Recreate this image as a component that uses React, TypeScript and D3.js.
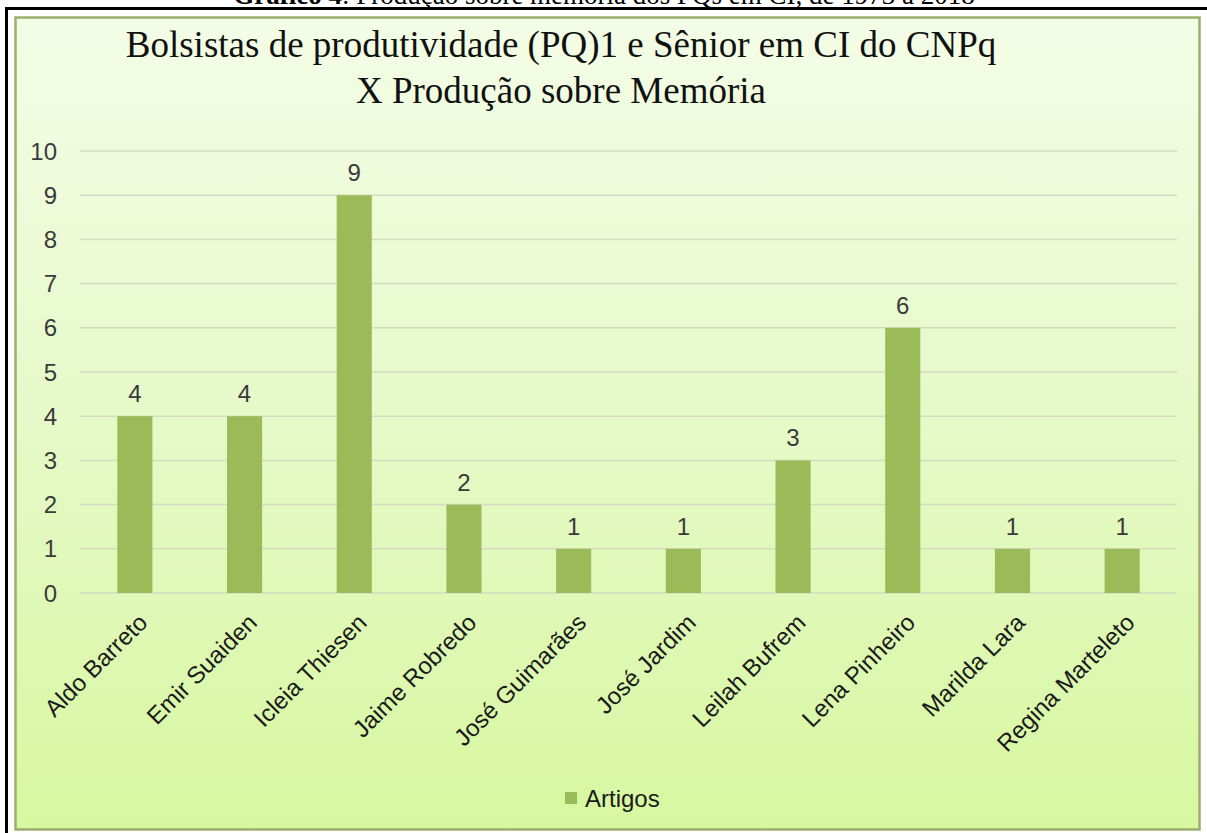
import React, { useEffect, useRef } from "react";
import * as d3 from "d3";

const authors = [
  "Aldo Barreto",
  "Emir Suaiden",
  "Icleia Thiesen",
  "Jaime Robredo",
  "José Guimarães",
  "José Jardim",
  "Leilah Bufrem",
  "Lena Pinheiro",
  "Marilda Lara",
  "Regina Marteleto",
];
const artigos = [4, 4, 9, 2, 1, 1, 3, 6, 1, 1];
const yTicks = [0, 1, 2, 3, 4, 5, 6, 7, 8, 9, 10];
const seriesName = "Artigos";
const titleLines = [
  "Bolsistas de produtividade (PQ)1 e Sênior em CI do CNPq",
  "X Produção sobre Memória",
];

function App() {
  const svgRef = useRef<SVGSVGElement>(null);

  useEffect(() => {
    const width = 1207;
    const height = 833;
    const sans = "'Liberation Sans', Arial, sans-serif";
    const serif = "'Liberation Serif', 'Times New Roman', serif";

    const svg = d3
      .select(svgRef.current)
      .attr("width", width)
      .attr("height", height);

    svg.selectAll("*").remove();

    // background gradient for chart area
    const defs = svg.append("defs");
    const grad = defs
      .append("linearGradient")
      .attr("id", "bg")
      .attr("x1", 0)
      .attr("y1", 0)
      .attr("x2", 0)
      .attr("y2", 1);
    grad.append("stop").attr("offset", "0%").attr("stop-color", "#f3fde6");
    grad.append("stop").attr("offset", "50%").attr("stop-color", "#e6f9c8");
    grad.append("stop").attr("offset", "100%").attr("stop-color", "#d7f7a0");

    svg.append("rect").attr("width", width).attr("height", height).attr("fill", "#ffffff");

    // document caption, cut off by the top edge in the source
    const cap = svg
      .append("text")
      .attr("x", 604)
      .attr("y", 4)
      .attr("text-anchor", "middle")
      .attr("font-family", serif)
      .attr("font-size", 27)
      .attr("fill", "#000");
    cap.append("tspan").attr("font-weight", "bold").text("Gráfico 4");
    cap.append("tspan").text(": Produção sobre memória dos PQs em CI, de 1973 a 2018");

    // black frame lines
    svg.append("rect").attr("x", 5).attr("y", 7).attr("width", width - 5).attr("height", 3).attr("fill", "#000");
    svg.append("rect").attr("x", 5).attr("y", 7).attr("width", 3).attr("height", height - 7).attr("fill", "#000");

    // chart area
    svg
      .append("rect")
      .attr("x", 15.5)
      .attr("y", 17.5)
      .attr("width", 1184)
      .attr("height", 812)
      .attr("fill", "url(#bg)")
      .attr("stroke", "#9cad6c")
      .attr("stroke-width", 2.5);

    // title
    titleLines.forEach((t, i) => {
      svg
        .append("text")
        .attr("x", 561)
        .attr("y", 57 + i * 46)
        .attr("text-anchor", "middle")
        .attr("font-family", serif)
        .attr("font-size", 37)
        .attr("fill", "#111")
        .text(t);
    });

    const x = d3
      .scaleBand()
      .domain(authors)
      .range([80, 1177])
      .paddingInner(0.68)
      .paddingOuter(0.34);

    const y = d3.scaleLinear().domain([0, 10]).range([593, 151]);

    // gridlines
    svg
      .append("g")
      .selectAll("line")
      .data(yTicks)
      .join("line")
      .attr("x1", 80)
      .attr("x2", 1177)
      .attr("y1", (d) => y(d))
      .attr("y2", (d) => y(d))
      .attr("stroke", "#d2dbc2")
      .attr("stroke-width", 1.5);

    // y tick labels
    svg
      .append("g")
      .selectAll("text")
      .data(yTicks)
      .join("text")
      .attr("x", 57)
      .attr("y", (d) => y(d))
      .attr("dy", "0.36em")
      .attr("text-anchor", "end")
      .attr("font-family", sans)
      .attr("font-size", 24)
      .attr("fill", "#3a3a3a")
      .text((d) => d);

    // bars
    svg
      .append("g")
      .selectAll("rect")
      .data(artigos)
      .join("rect")
      .attr("x", (d, i) => x(authors[i]) as number)
      .attr("y", (d) => y(d))
      .attr("width", x.bandwidth())
      .attr("height", (d) => y(0) - y(d))
      .attr("fill", "#9bbb59");

    // value labels
    svg
      .append("g")
      .selectAll("text")
      .data(artigos)
      .join("text")
      .attr("x", (d, i) => (x(authors[i]) as number) + x.bandwidth() / 2)
      .attr("y", (d) => y(d) - 14)
      .attr("text-anchor", "middle")
      .attr("font-family", sans)
      .attr("font-size", 24)
      .attr("fill", "#3a3a3a")
      .text((d) => d);

    // x labels rotated
    svg
      .append("g")
      .selectAll("text")
      .data(authors)
      .join("text")
      .attr("transform", (d) => {
        const cx = (x(d) as number) + x.bandwidth() / 2 + 14;
        return `translate(${cx},624) rotate(-45)`;
      })
      .attr("text-anchor", "end")
      .attr("font-family", sans)
      .attr("font-size", 24)
      .attr("fill", "#1a1a1a")
      .text((d) => d);

    // legend
    const lg = svg.append("g").attr("transform", "translate(565,792)");
    lg.append("rect").attr("width", 12).attr("height", 12).attr("fill", "#9bbb59");
    lg.append("text")
      .attr("x", 20)
      .attr("y", 6)
      .attr("dy", "0.36em")
      .attr("font-family", sans)
      .attr("font-size", 24)
      .attr("fill", "#1a1a1a")
      .text(seriesName);
  }, []);

  return (
    <div style={{ position: "absolute", left: 0, top: 0 }}>
      <svg ref={svgRef}></svg>
    </div>
  );
}

export default App;
